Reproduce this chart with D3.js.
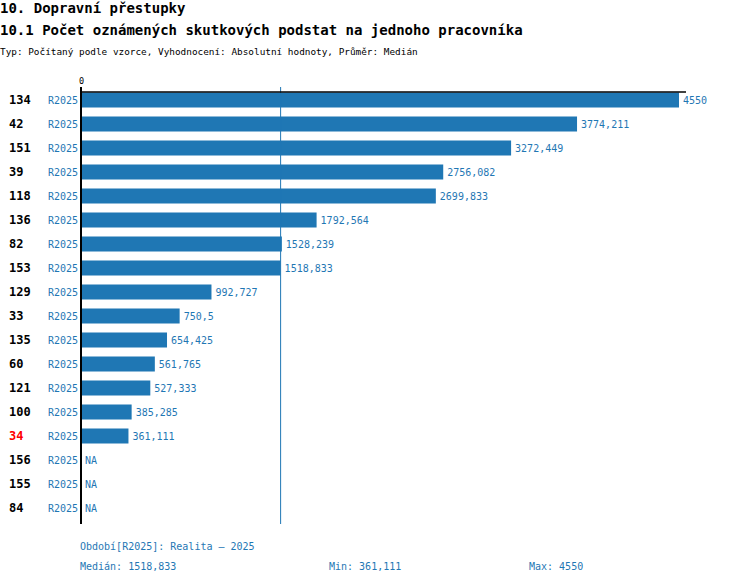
<!DOCTYPE html>
<html>
<head>
<meta charset="utf-8">
<script src="https://cdn.jsdelivr.net/npm/d3@7"></script>
<style>
  body { margin: 0; background: #fff; }
  text { font-family: "DejaVu Sans Mono", monospace; }
</style>
</head>
<body>
<div id="chart"></div>
<script>
const ids = ["134", "42", "151", "39", "118", "136", "82", "153", "129", "33", "135", "60", "121", "100", "34", "156", "155", "84"];
const period = "R2025";
const values = [4550, 3774.211, 3272.449, 2756.082, 2699.833, 1792.564, 1528.239, 1518.833, 992.727, 750.5, 654.425, 561.765, 527.333, 385.285, 361.111, null, null, null];
const highlight = ["34"];
const median = 1518.833;
const minVal = 361.111;
const maxVal = 4550;

const width = 750, height = 584;
const blue = "#1f77b4";
const fmt = v => v == null ? "NA" : String(v).replace(".", ",");

const rows = ids.map((id, i) => ({id: id, value: values[i]}));

const svg = d3.select("#chart").append("svg")
  .attr("width", width)
  .attr("height", height);

// titles
svg.append("text").attr("x", 0).attr("y", 13)
  .style("font-size", "14px").style("font-weight", "bold")
  .text("10. Dopravní přestupky");
svg.append("text").attr("x", 0).attr("y", 35)
  .style("font-size", "14px").style("font-weight", "bold")
  .text("10.1 Počet oznámených skutkových podstat na jednoho pracovníka");
svg.append("text").attr("x", 0).attr("y", 55)
  .style("font-size", "9.4px")
  .text("Typ: Počítaný podle vzorce, Vyhodnocení: Absolutní hodnoty, Průměr: Medián");

const x = d3.scaleLinear().domain([0, maxVal]).range([81, 679]);
const y = d3.scaleBand().domain(ids).range([88, 520])
  .paddingInner(0.375).paddingOuter(0.1875);

// bars
svg.append("g")
  .selectAll("rect")
  .data(rows.filter(d => d.value != null))
  .join("rect")
    .attr("x", x(0))
    .attr("y", d => y(d.id))
    .attr("width", d => x(d.value) - x(0))
    .attr("height", y.bandwidth())
    .attr("fill", blue);

// median line
svg.append("line")
  .attr("x1", x(median)).attr("x2", x(median))
  .attr("y1", 87).attr("y2", 524)
  .attr("stroke", blue).attr("stroke-width", 1);

// top axis
const axis = svg.append("g")
  .attr("transform", "translate(0,92)")
  .call(d3.axisTop(x).tickValues([0]).tickSize(0).tickPadding(8));
axis.select(".domain").remove();
axis.selectAll("text")
  .style("font-family", "DejaVu Sans Mono, monospace")
  .style("font-size", "8.5px")
  .attr("fill", "#000");
svg.append("line")
  .attr("x1", x(0) - 1).attr("x2", 686)
  .attr("y1", 92).attr("y2", 92)
  .attr("stroke", "#000").attr("stroke-width", 1.5);

// left axis line
svg.append("line")
  .attr("x1", x(0)).attr("x2", x(0))
  .attr("y1", 87).attr("y2", 524)
  .attr("stroke", "#000").attr("stroke-width", 2);

const mid = d => y(d.id) + y.bandwidth() / 2;

// row labels
svg.append("g")
  .selectAll("text")
  .data(rows)
  .join("text")
    .attr("x", 9)
    .attr("y", mid)
    .attr("dy", "0.36em")
    .style("font-size", "12px")
    .style("font-weight", "bold")
    .attr("fill", d => highlight.includes(d.id) ? "#ff0000" : "#000")
    .text(d => d.id);

svg.append("g")
  .selectAll("text")
  .data(rows)
  .join("text")
    .attr("x", x(0) - 3)
    .attr("y", mid)
    .attr("dy", "0.36em")
    .attr("text-anchor", "end")
    .style("font-size", "10px")
    .attr("fill", blue)
    .text(period);

// value labels
svg.append("g")
  .selectAll("text")
  .data(rows)
  .join("text")
    .attr("x", d => x(d.value == null ? 0 : d.value) + 4)
    .attr("y", mid)
    .attr("dy", "0.36em")
    .style("font-size", "10px")
    .attr("fill", blue)
    .text(d => fmt(d.value));

// footer
const foot = svg.append("g").attr("fill", blue).style("font-size", "10px");
foot.append("text").attr("x", 80).attr("y", 550).text("Období[" + period + "]: Realita – 2025");
foot.append("text").attr("x", 80).attr("y", 570).text("Medián: " + fmt(median));
foot.append("text").attr("x", 329).attr("y", 570).text("Min: " + fmt(minVal));
foot.append("text").attr("x", 529).attr("y", 570).text("Max: " + fmt(maxVal));
</script>
</body>
</html>
